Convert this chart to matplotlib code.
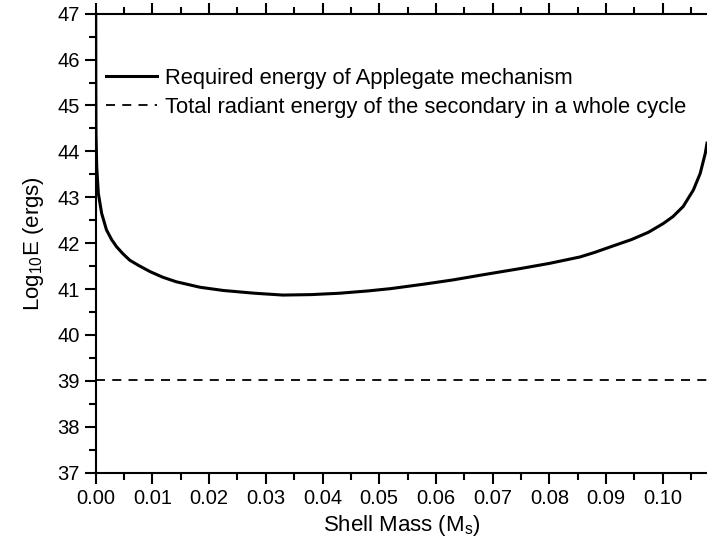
import matplotlib
matplotlib.use("Agg")
import matplotlib.pyplot as plt
from matplotlib.ticker import MultipleLocator

# 讀取的數據（從圖上估計）
shell_mass = [0.0, 0.00002, 0.00005, 0.00018, 0.00046, 0.00105, 0.0019,
              0.0028, 0.0037, 0.0048, 0.006, 0.0075, 0.0096, 0.0118, 0.0142,
              0.0184, 0.0225, 0.028, 0.033, 0.038, 0.043, 0.048, 0.052,
              0.058, 0.063, 0.0677, 0.075, 0.080, 0.0854, 0.088, 0.091,
              0.0945, 0.0975, 0.1001, 0.1018, 0.1036, 0.1054, 0.1066,
              0.1075, 0.1078]
log_e_required = [47.5, 45.5, 44.4, 43.67, 43.09, 42.65, 42.29,
                  42.08, 41.92, 41.77, 41.63, 41.52, 41.38, 41.26, 41.16,
                  41.04, 40.97, 40.91, 40.87, 40.88, 40.91, 40.96, 41.01,
                  41.11, 41.20, 41.30, 41.45, 41.56, 41.70, 41.80, 41.93,
                  42.08, 42.24, 42.43, 42.58, 42.80, 43.16, 43.52,
                  43.96, 44.18]
radiant_mass = [0.0, 0.1078]
log_e_radiant = [39.02, 39.02]

plt.rcParams.update({
    'font.size': 14,
    'font.family': ['Liberation Sans', 'DejaVu Sans'],
    'mathtext.fontset': 'custom',
    'mathtext.rm': 'Liberation Sans',
    'mathtext.it': 'Liberation Sans',
})

fig = plt.figure(figsize=(7.07, 5.48), dpi=100)
ax = fig.add_axes([95.7 / 707, 1 - 472.7 / 548, (707 - 95.7) / 707, (472.7 - 13.7) / 548])

ax.plot(shell_mass, log_e_required, color='black', linewidth=2.2,
        solid_joinstyle='round',
        label='Required energy of Applegate mechanism')
ax.plot(radiant_mass, log_e_radiant, color='black', linewidth=1.3,
        linestyle=(0, (5, 4)),
        label='Total radiant energy of the secondary in a whole cycle')

ax.set_xlim(0, 0.1078)
ax.set_ylim(37, 47)
ax.xaxis.set_major_locator(MultipleLocator(0.01))
ax.xaxis.set_minor_locator(MultipleLocator(0.005))
ax.yaxis.set_major_locator(MultipleLocator(1))
ax.yaxis.set_minor_locator(MultipleLocator(0.5))
ax.xaxis.set_major_formatter(plt.FormatStrFormatter('%.2f'))

ax.spines['right'].set_visible(False)
for s in ['left', 'bottom', 'top']:
    ax.spines[s].set_linewidth(1.5)
ax.tick_params(which='both', direction='out', width=1.5, top=True, right=False)
ax.tick_params(which='major', length=8, labelsize=14.5)
ax.tick_params(which='minor', length=5)

ax.set_xlabel(r'Shell Mass (M$\mathregular{_s}$)', fontsize=16, labelpad=4)
ax.set_ylabel(r'Log$\mathregular{_{10}}$E (ergs)', fontsize=16, labelpad=8)

ax.legend(loc='upper left', bbox_to_anchor=(-0.009, 0.915), frameon=False,
          fontsize=15.8, handlelength=2.35, handletextpad=0.35, labelspacing=0.35,
          borderaxespad=0.3)

fig.savefig('out.png', dpi=100)
